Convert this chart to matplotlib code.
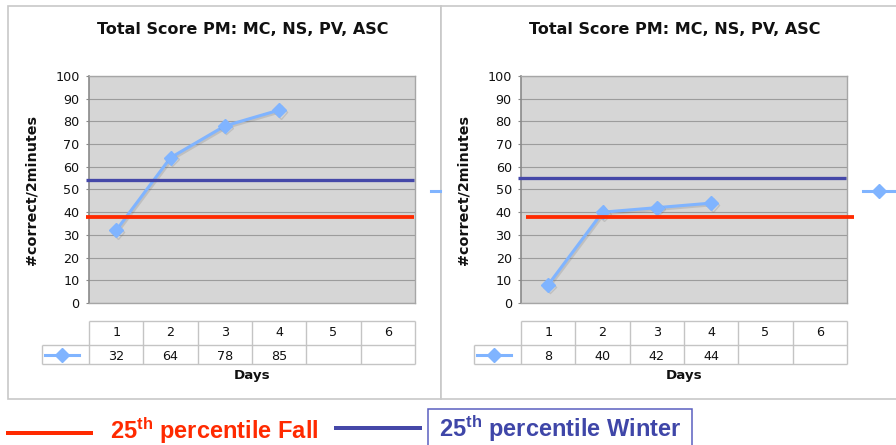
import matplotlib
matplotlib.use("Agg")
import numpy as np
import matplotlib.pyplot as plt
import matplotlib.patheffects as pe
from matplotlib.lines import Line2D
from matplotlib.patches import Rectangle

# ---- data -------------------------------------------------------------
days = [1, 2, 3, 4, 5, 6]
chart_title = "Total Score PM: MC, NS, PV, ASC"
y_label = "#correct/2minutes"
x_label = "Days"
y_ticks = list(range(0, 101, 10))

fall_scores = [32, 64, 78, 85]
winter_scores = [8, 40, 42, 44]

fall_p25_left, winter_p25_left = 38, 54
fall_p25_right, winter_p25_right = 38, 55

legend_fall = r"$\mathrm{25^{th}}$ percentile Fall"
legend_winter = r"$\mathrm{25^{th}}$ percentile Winter"

# ---- style ------------------------------------------------------------
plt.rcParams["font.family"] = ["DejaVu Sans"]
plt.rcParams["mathtext.fontset"] = "custom"
plt.rcParams["mathtext.rm"] = "Liberation Sans:bold"
plt.rcParams["mathtext.bf"] = "Liberation Sans:bold"
plt.rcParams["mathtext.it"] = "Liberation Sans:bold"

SERIES = "#80b4ff"
RED = "#ff2a00"
BLUE = "#4548a8"
PLOT_BG = "#d6d6d6"
GRID = "#9c9c9c"
TABLE_LINE = "#c4c4c4"
PANEL_EDGE = "#c8c8c8"

W, H = 896, 445
fig = plt.figure(figsize=(W / 100, H / 100), dpi=100)
fig.patch.set_facecolor("white")


def fx(px):
    return px / W


def fy(py):
    return 1 - py / H


PT = 0.72  # points per pixel at 100 dpi

# panel frames
fig.add_artist(Rectangle((fx(8), fy(399)), fx(441) - fx(8), fy(6) - fy(399),
                         transform=fig.transFigure, facecolor="white",
                         edgecolor=PANEL_EDGE, lw=1.2, zorder=-2))
fig.add_artist(Rectangle((fx(441), fy(399)), fx(905) - fx(441), fy(6) - fy(399),
                         transform=fig.transFigure, facecolor="white",
                         edgecolor=PANEL_EDGE, lw=1.2, zorder=-1))

COL_W = 326 / 6.0  # pixel width of one day column


def draw_chart(x0, scores, fall, winter, fall_span, winter_span, title_cx):
    ax = fig.add_axes([fx(x0), fy(303), 326 / W, 227 / H])
    ax.set_facecolor(PLOT_BG)
    ax.set_xlim(0.5, 6.5)
    ax.set_ylim(0, 100)
    ax.set_yticks(y_ticks)
    ax.set_xticks([])
    ax.grid(axis="y", color=GRID, lw=0.8)
    ax.set_axisbelow(True)
    ax.tick_params(axis="y", length=3 * PT, width=0.8, color="#888888",
                   pad=4.5, labelsize=9.2, labelcolor="#111111")
    for side in ["top", "right", "bottom"]:
        ax.spines[side].set_color("#a6a6a6")
        ax.spines[side].set_linewidth(1.0)
    ax.spines["left"].set_color("#8a8a8a")
    ax.spines["left"].set_linewidth(1.2)

    ax.plot(days[:len(scores)], scores, color=SERIES, lw=2.2, marker="D",
            ms=7, mec=SERIES, zorder=3,
            path_effects=[pe.SimpleLineShadow(offset=(1.0, -1.2),
                                              shadow_color="#707070", alpha=0.22),
                          pe.Normal()])

    ax.axhline(winter, xmin=winter_span[0], xmax=winter_span[1], color=BLUE,
               lw=3.3 * PT, clip_on=False, zorder=4, solid_capstyle="butt")
    ax.axhline(fall, xmin=fall_span[0], xmax=fall_span[1], color=RED,
               lw=3.8 * PT, clip_on=False, zorder=4, solid_capstyle="butt")

    # data table beneath the plot
    tax = fig.add_axes([fx(x0 - 47), fy(364), 373 / W, 43 / H])
    x_left = 0.5 - 47 / COL_W
    tax.set_xlim(x_left, 6.5)
    tax.set_ylim(0, 43)
    tax.axis("off")
    edges = np.arange(0.5, 6.6, 1.0)
    tax.vlines(edges, 0, 43, color=TABLE_LINE, lw=1.0, clip_on=False)
    tax.vlines([x_left], 0, 19, color=TABLE_LINE, lw=1.0, clip_on=False)
    tax.hlines([43], 0.5, 6.5, color=TABLE_LINE, lw=1.0, clip_on=False)
    tax.hlines([0, 19], x_left, 6.5, color=TABLE_LINE, lw=1.0, clip_on=False)
    for d in days:
        tax.text(d, 31, str(d), ha="center", va="center", fontsize=9.2,
                 color="#111111")
    for d, s in zip(days, scores):
        tax.text(d, 7.5, str(s), ha="center", va="center", fontsize=9.2,
                 color="#111111")
    kx0 = x_left + 3 / COL_W
    kx1 = x_left + 37 / COL_W
    tax.plot([kx0, kx1], [9, 9], color=SERIES, lw=2.2, clip_on=False)
    tax.plot([(kx0 + kx1) / 2], [9], color=SERIES, marker="D", ms=7,
             clip_on=False)

    fig.text(fx(title_cx), fy(29), chart_title, ha="center", va="center",
             fontsize=11.5, fontweight="bold", color="#111111")
    fig.text(fx(x0 - 58), fy(190), y_label, ha="center", va="center",
             rotation=90, fontsize=10.3, fontweight="bold", color="#111111")
    fig.text(fx(x0 + 163), fy(376), x_label, ha="center", va="center",
             fontsize=9.6, fontweight="bold", color="#111111")
    return ax


draw_chart(89, fall_scores, fall_p25_left, winter_p25_left,
           (-3 / 326, 325 / 326), (-3 / 326, 325 / 326), 243)
draw_chart(521, winter_scores, fall_p25_right, winter_p25_right,
           (5 / 326, 333 / 326), (-3 / 326, 325 / 326), 674.5)

# partly visible series keys at the panel edges
fig.add_artist(Line2D([fx(431), fx(440)], [fy(191), fy(191)],
                      transform=fig.transFigure, color=SERIES, lw=2.2))
fig.add_artist(Line2D([fx(863), fx(900)], [fy(191), fy(191)],
                      transform=fig.transFigure, color=SERIES, lw=2.2))
fig.add_artist(Line2D([fx(879)], [fy(191)], transform=fig.transFigure,
                      color=SERIES, marker="D", ms=7))

# benchmark legend along the bottom
fig.add_artist(Line2D([fx(6), fx(93)], [fy(432.7), fy(432.7)],
                      transform=fig.transFigure, color=RED, lw=4 * PT,
                      solid_capstyle="butt"))
fig.text(fx(110), fy(438.5), legend_fall, ha="left", va="baseline",
         fontsize=17, family="Liberation Sans", fontweight="bold", color=RED)
fig.add_artist(Line2D([fx(334), fx(422)], [fy(428), fy(428)],
                      transform=fig.transFigure, color=BLUE, lw=4 * PT,
                      solid_capstyle="butt"))
fig.add_artist(Rectangle((fx(428), fy(450)), fx(692) - fx(428), fy(409) - fy(450),
                         transform=fig.transFigure, facecolor="white",
                         edgecolor="#5a5fc0", lw=1.1))
fig.text(fx(439), fy(436.5), legend_winter, ha="left", va="baseline",
         fontsize=17, family="Liberation Sans", fontweight="bold",
         color="#3f46a8")

fig.savefig("out.png", dpi=100, facecolor="white")
